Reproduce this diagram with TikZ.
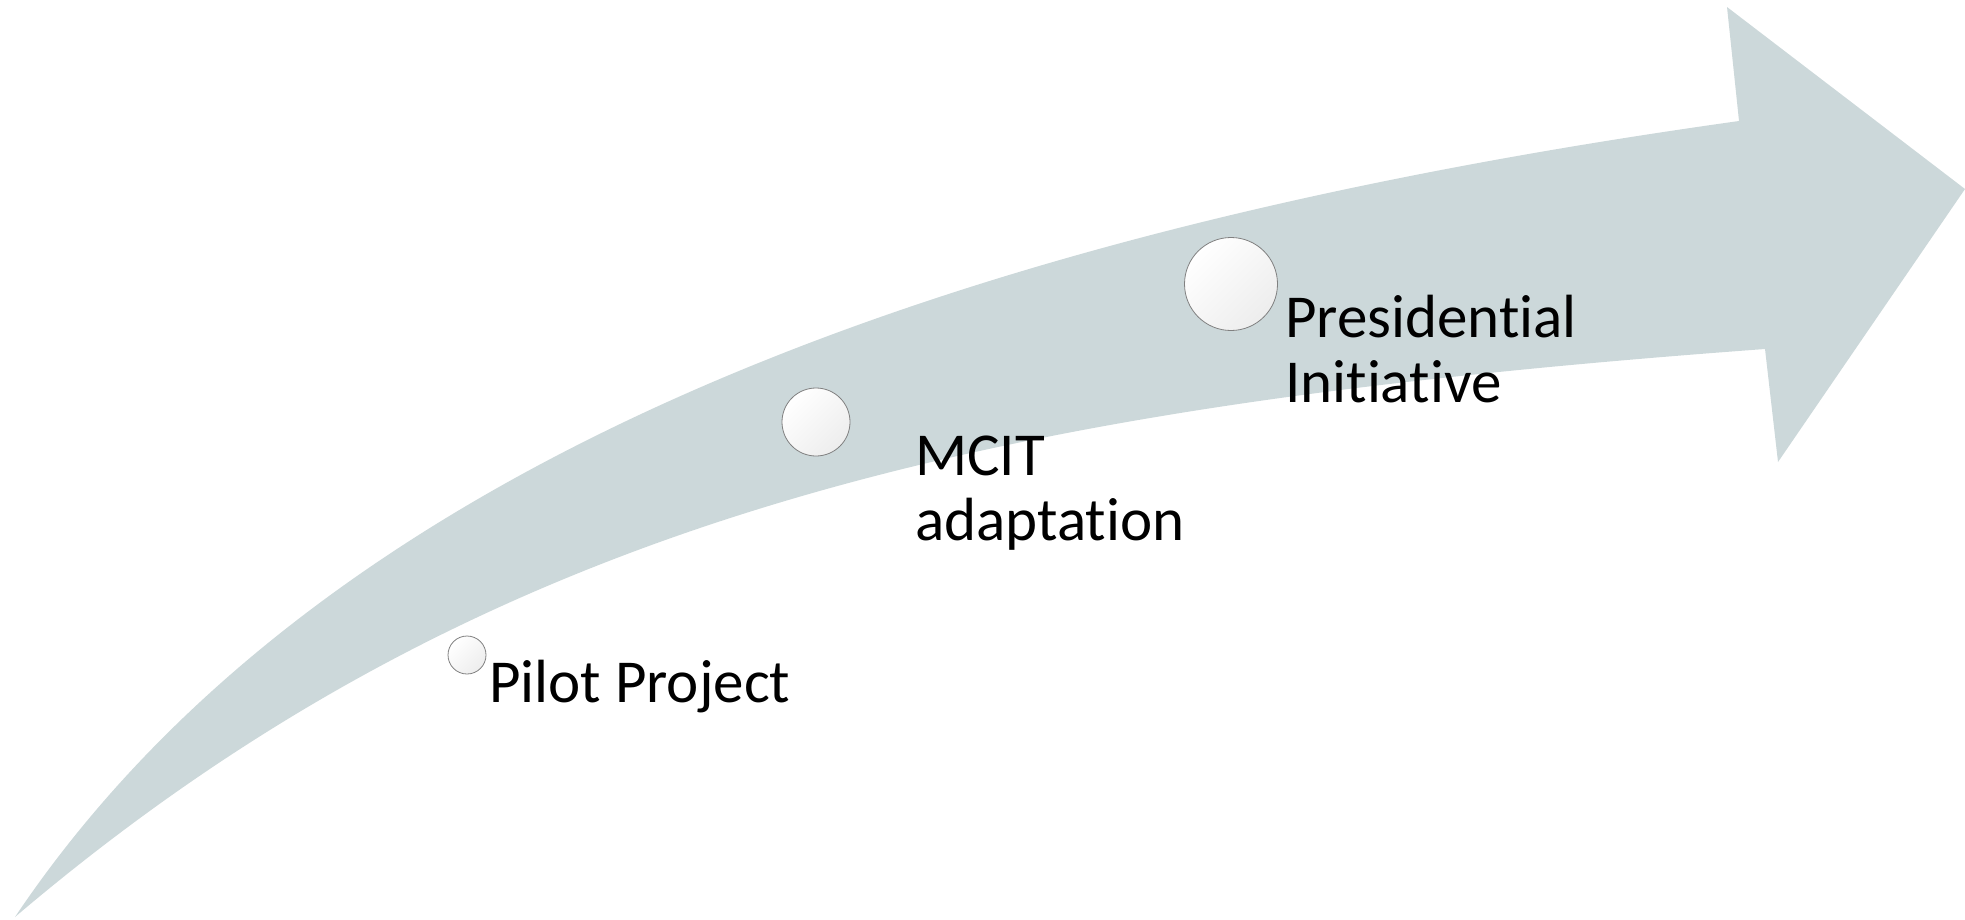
\documentclass[tikz,border=0pt]{standalone}
\usepackage{fontspec}
\setmainfont{Carlito}[Ligatures={NoCommon}]
\definecolor{band}{RGB}{204,216,218}
\begin{document}
\begin{tikzpicture}[x=1pt,y=-1pt,
  stage/.style={circle, draw=black!50, line width=0.8pt, top color=white, bottom color=black!7, shading angle=45, inner sep=0pt},
  label/.style={anchor=base west, inner sep=0pt, align=left, font=\fontsize{61}{65}\selectfont}]
\useasboundingbox (0,0) rectangle (1965,919);
\coordinate (tail) at (15,917);
\coordinate (neckT) at (1739,121);
\coordinate (barbT) at (1727,7);
\coordinate (tip) at (1965,189);
\coordinate (barbB) at (1778,462);
\coordinate (neckB) at (1765,349);
\fill[band] (tail) .. controls (345,425) and (1039,219) .. (neckT)
  -- (barbT) -- (tip) -- (barbB) -- (neckB)
  .. controls (1005,405) and (495,509) .. (tail) -- cycle;
\node[stage, minimum size=38pt] (c1) at (467,655) {};
\node[stage, minimum size=68pt] (c2) at (816,422) {};
\node[stage, minimum size=93pt] (c3) at (1231,284) {};
\node[label] (t1) at (489,702) {Pilot Project};
\node[label] (t2) at (915,540) {MCIT\\adaptation};
\node[label] (t3) at (1285,402) {Presidential\\Initiative};
\end{tikzpicture}
\end{document}
